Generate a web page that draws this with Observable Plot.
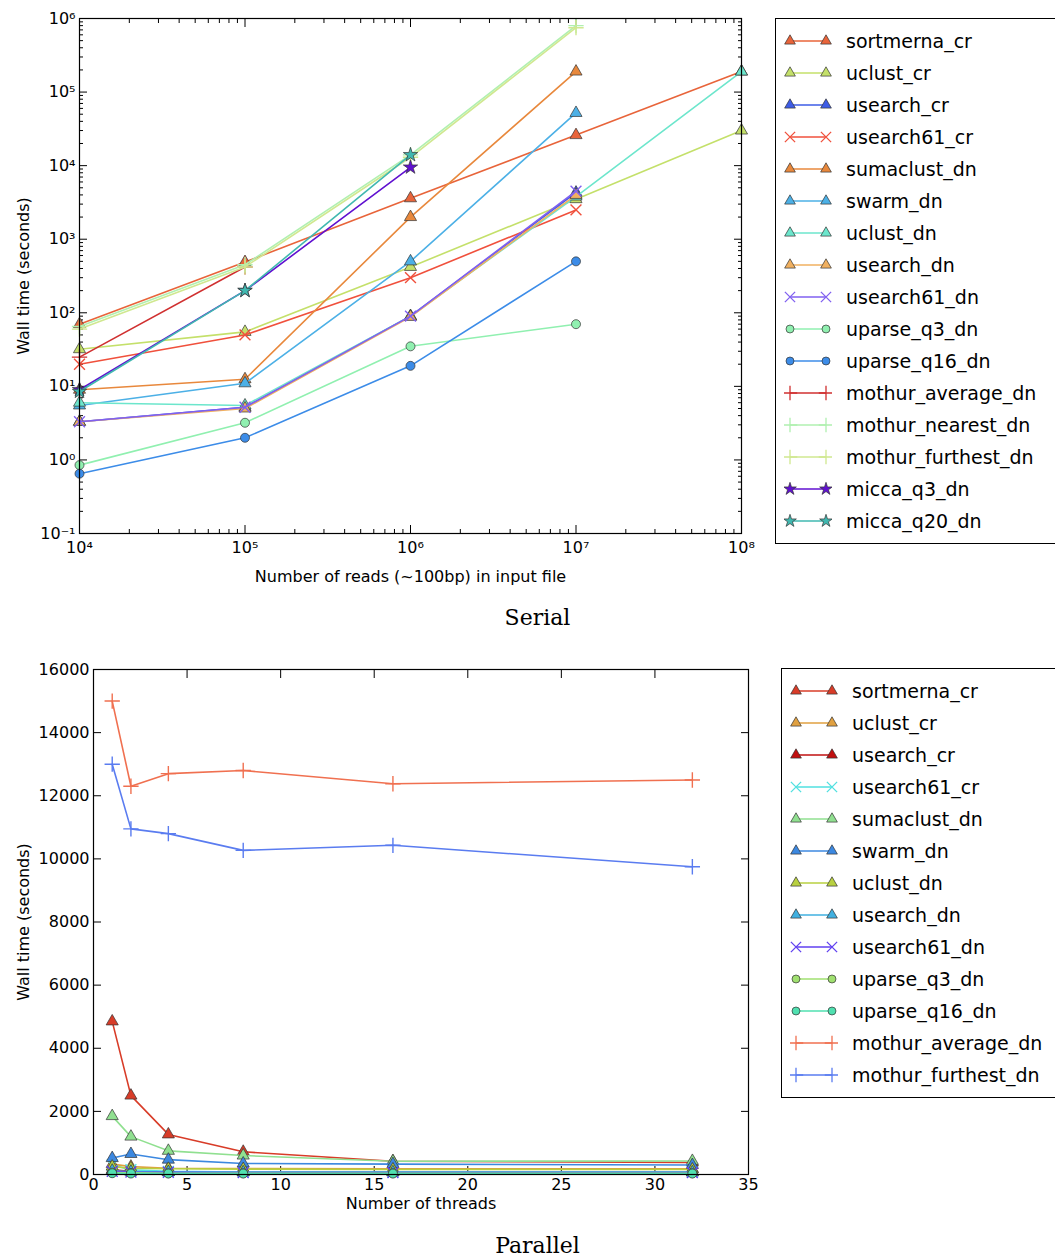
<!DOCTYPE html>
<html><head><meta charset="utf-8">
<script src="https://cdn.jsdelivr.net/npm/d3@7"></script>
<script src="https://cdn.jsdelivr.net/npm/@observablehq/plot@0.6"></script>
<style>
body{margin:0;background:#fff;font-family:"DejaVu Sans",sans-serif;}
.sec{position:absolute;left:0;}
.legend{position:absolute;border:1px solid #000;background:#fff;padding:6px 0 6px 8px;font-size:19px;white-space:nowrap;overflow:hidden}
.legend div{display:flex;align-items:center;height:32px}
.legend svg{margin-right:14px}
.cap{position:absolute;font-family:"DejaVu Serif","Liberation Serif",serif;font-size:22px;text-align:center}
</style></head><body>
<div id="serial" class="sec" style="top:0"></div>
<div id="leg1" class="legend" style="left:775px;top:18px;width:290px"></div>
<div class="cap" style="top:605px;left:0;width:1075px">Serial</div>
<div id="parallel" class="sec" style="top:651px"></div>
<div id="leg2" class="legend" style="left:781px;top:668px;width:290px"></div>
<div class="cap" style="top:1233px;left:0;width:1075px">Parallel</div>
<script>
// Serial: reads in input file
const reads = [1e4, 1e5, 1e6, 1e7, 1e8];
const serialNames = ["sortmerna_cr","uclust_cr","usearch_cr","usearch61_cr","sumaclust_dn","swarm_dn","uclust_dn","usearch_dn","usearch61_dn","uparse_q3_dn","uparse_q16_dn","mothur_average_dn","mothur_nearest_dn","mothur_furthest_dn","micca_q3_dn","micca_q20_dn"];
const serialColors = ["#e8643a","#c4e06a","#3e5ce6","#f0503c","#e8883c","#4cb0e6","#6ce6cc","#f0b060","#8060f0","#90f0b0","#3c8ce8","#d03030","#b0f0b0","#d0e890","#6010d0","#40b8b0"];
const serialSymbols = ["triangle","triangle","triangle","times","triangle","triangle","triangle","triangle","times","circle","circle","plus","plus","plus","star","star"];
const serialTimes = [
  [70, 490, 3600, 26000, 190000],
  [32, 55, 420, 3500, 30000],
  [3.3, 5.2, 90, 4300, null],
  [20, 50, 300, 2500, null],
  [9, 12.5, 2000, 190000, null],
  [5.5, 11, 500, 52000, null],
  [6, 5.5, 90, 3800, 190000],
  [3.3, 5, 88, 4000, null],
  [3.3, 5.2, 90, 4500, null],
  [0.85, 3.2, 35, 70, null],
  [0.65, 2.0, 19, 500, null],
  [25, 420, null, null, null],
  [65, 450, 14000, 800000, null],
  [60, 420, 13000, 750000, null],
  [9, 200, 9500, null, null],
  [8.5, 200, 14000, null, null]
];
const readTicks = [1e4, 1e5, 1e6, 1e7, 1e8];
const timeTicks = [0.1, 1, 10, 100, 1e3, 1e4, 1e5, 1e6];
// Parallel: threads
const threads = [1, 2, 4, 8, 16, 32];
const parNames = ["sortmerna_cr","uclust_cr","usearch_cr","usearch61_cr","sumaclust_dn","swarm_dn","uclust_dn","usearch_dn","usearch61_dn","uparse_q3_dn","uparse_q16_dn","mothur_average_dn","mothur_furthest_dn"];
const parColors = ["#d83c28","#e0a040","#c01010","#50e0e0","#90e090","#3c88e0","#b8d040","#40b0e0","#6040f0","#a0e070","#50e0b0","#f07050","#5a7cf0"];
const parSymbols = ["triangle","triangle","triangle","times","triangle","triangle","triangle","triangle","times","circle","circle","plus","plus"];
const parTimes = [
  [4850, 2500, 1270, 720, 420, 380],
  [330, 250, 200, 190, 180, 180],
  [150, 100, 80, 70, 70, 70],
  [300, 150, 100, 80, 80, 80],
  [1850, 1200, 750, 600, 420, 430],
  [520, 650, 470, 350, 330, 300],
  [250, 200, 180, 170, 160, 160],
  [120, 90, 80, 70, 70, 70],
  [100, 80, 70, 60, 60, 60],
  [60, 50, 40, 40, 40, 40],
  [40, 30, 30, 30, 30, 30],
  [15000, 12300, 12700, 12800, 12380, 12500],
  [13000, 10950, 10800, 10270, 10430, 9750]
];
const threadTicks = [0, 5, 10, 15, 20, 25, 30, 35];
const wallTicks = [0, 2000, 4000, 6000, 8000, 10000, 12000, 14000, 16000];

const sup = {"-":"⁻","0":"⁰","1":"¹","2":"²","3":"³","4":"⁴","5":"⁵","6":"⁶","7":"⁷","8":"⁸","9":"⁹"};
const pow10 = d => "10" + String(Math.round(Math.log10(d))).split("").map(c => sup[c]).join("");
const none = () => "";
const minor = ticks => ticks.slice(0, -1).flatMap(t => [2,3,4,5,6,7,8,9].map(k => t * k));

function rows(names, xs, ys) {
  const out = [];
  names.forEach((n, i) => xs.forEach((x, j) => { if (ys[i][j] != null) out.push({name: n, x, y: ys[i][j]}); }));
  return out;
}

function seriesMarks(data, names, colors, symbols) {
  const marks = [];
  names.forEach((n, i) => {
    const d = data.filter(r => r.name === n);
    const line = symbols[i] === "plus" || symbols[i] === "times";
    marks.push(Plot.line(d, {x: "x", y: "y", stroke: colors[i], strokeWidth: 1.6}));
    marks.push(Plot.dot(d, {x: "x", y: "y", symbol: symbols[i], r: line ? 5 : 4.5,
      fill: line ? "none" : colors[i], stroke: line ? colors[i] : "#333", strokeWidth: line ? 1.4 : 0.7}));
  });
  return marks;
}

function frameAxes(xt, yt, xf, yf, xl, yl, xOff, yOff, xPad) {
  return [
    Plot.axisX(xt, {tickSize: -8, tickFormat: xf, tickPadding: xPad, label: xl, labelAnchor: "center", labelOffset: xOff, labelArrow: "none"}),
    Plot.axisX(xt, {anchor: "top", tickSize: -8, tickFormat: none, label: null}),
    Plot.axisY(yt, {tickSize: -8, tickFormat: yf, tickPadding: 12, label: yl, labelAnchor: "center", labelOffset: yOff, labelArrow: "none"}),
    Plot.axisY(yt, {anchor: "right", tickSize: -8, tickFormat: none, label: null})
  ];
}

function legend(id, names, colors, symbols) {
  const el = d3.select("#" + id);
  names.forEach((n, i) => {
    const row = el.append("div");
    const s = row.append("svg").attr("width", 48).attr("height", 20);
    s.append("line").attr("x1", 6).attr("x2", 42).attr("y1", 10).attr("y2", 10).attr("stroke", colors[i]).attr("stroke-width", 1.5);
    const line = symbols[i] === "plus" || symbols[i] === "times";
    const sym = {triangle: d3.symbolTriangle, circle: d3.symbolCircle, times: d3.symbolTimes, plus: d3.symbolPlus, star: d3.symbolStar}[symbols[i]];
    const sy = d3.symbol(sym, line ? 70 : 50);
    [6, 42].forEach(cx => s.append("path").attr("d", sy()).attr("transform", `translate(${cx},10)`)
      .attr("fill", line ? "none" : colors[i]).attr("stroke", line ? colors[i] : "#333").attr("stroke-width", line ? 1.3 : 0.7));
    row.append("span").text(n);
  });
}

const serialChart = Plot.plot({
  width: 760, height: 590,
  marginLeft: 79, marginRight: 19, marginTop: 18, marginBottom: 57,
  style: {fontFamily: "DejaVu Sans", fontSize: "16px", color: "#000", overflow: "visible"},
  x: {type: "log", domain: [1e4, 1e8]},
  y: {type: "log", domain: [0.1, 1e6]},
  marks: [
    ...frameAxes(readTicks, timeTicks, pow10, pow10, "Number of reads (~100bp) in input file", "Wall time (seconds)", 48, 62, 16),
    Plot.axisX(minor(readTicks), {tickSize: -4, tickFormat: none, label: null}),
    Plot.axisX(minor(readTicks), {anchor: "top", tickSize: -4, tickFormat: none, label: null}),
    Plot.axisY(minor(timeTicks), {tickSize: -4, tickFormat: none, label: null}),
    Plot.axisY(minor(timeTicks), {anchor: "right", tickSize: -4, tickFormat: none, label: null}),
    ...seriesMarks(rows(serialNames, reads, serialTimes), serialNames, serialColors, serialSymbols),
    Plot.frame({stroke: "#000", strokeWidth: 1.2})
  ]
});
document.getElementById("serial").appendChild(serialChart);

const parChart = Plot.plot({
  width: 768, height: 570,
  marginLeft: 93, marginRight: 20, marginTop: 18, marginBottom: 47,
  style: {fontFamily: "DejaVu Sans", fontSize: "16px", color: "#000", overflow: "visible"},
  x: {domain: [0, 35]},
  y: {domain: [0, 16000]},
  marks: [
    ...frameAxes(threadTicks, wallTicks, d => String(d), d => String(d), "Number of threads", "Wall time (seconds)", 34, 76, 12),
    ...seriesMarks(rows(parNames, threads, parTimes), parNames, parColors, parSymbols),
    Plot.frame({stroke: "#000", strokeWidth: 1.2})
  ]
});
document.getElementById("parallel").appendChild(parChart);

legend("leg1", serialNames, serialColors, serialSymbols);
legend("leg2", parNames, parColors, parSymbols);
</script>
</body></html>
